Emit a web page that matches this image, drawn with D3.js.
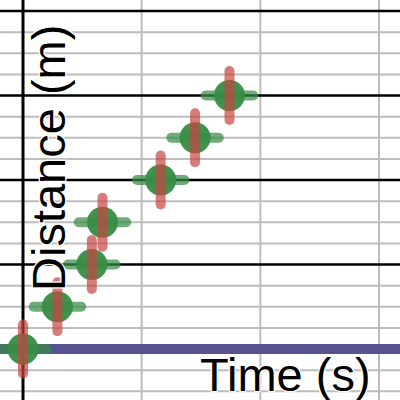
<!DOCTYPE html>
<meta charset="utf-8">
<style>
body { margin: 0; }
svg { display: block; background: #fff; }
.lbl {
  font-family: "Liberation Sans", Arial, sans-serif;
  font-size: 47px;
  fill: #000;
  stroke: #fff;
  stroke-width: 2.5px;
  paint-order: stroke;
}
</style>
<svg width="400" height="400"></svg>
<script src="https://d3js.org/d3.v7.min.js"></script>
<script>

// measured points: time (s) vs distance (m)
var timeS = [0, 0.29, 0.58, 0.67, 1.16, 1.45, 1.74],
    distM = [0, 0.5, 1, 1.5, 2, 2.5, 3];
var timeErr = [0.2, 0.2, 0.2, 0.2, 0.2, 0.2, 0.2],
    distErr = [0.29, 0.29, 0.29, 0.29, 0.29, 0.29, 0.29];

var xMajor = [0, 1, 2, 3],
    yMajor = [0, 1, 2, 3, 4],
    yMinor = d3.range(-0.5, 4.01, 0.25);

var xLabel = "Time (s)",
    yLabel = "Distance (m)";

var svg = d3.select("svg"),
    width = +svg.attr("width"),
    height = +svg.attr("height");

var x = d3.scaleLinear().domain([0, 3]).range([23, 379]),
    y = d3.scaleLinear().domain([0, 4]).range([349, 11]);

var data = timeS.map(function(t, i) {
  return {t: t, d: distM[i], et: timeErr[i], ed: distErr[i]};
});

// grid
var grid = svg.append("g");

grid.selectAll(".hminor")
  .data(yMinor.filter(function(v) { return Math.abs(v - Math.round(v)) > 1e-6; }))
  .enter().append("line")
    .attr("x1", 0).attr("x2", width)
    .attr("y1", function(d) { return y(d); })
    .attr("y2", function(d) { return y(d); })
    .attr("stroke", "#bdbdbd")
    .attr("stroke-width", 2);

grid.selectAll(".vmajor")
  .data(xMajor.filter(function(v) { return v !== 0; }))
  .enter().append("line")
    .attr("y1", 0).attr("y2", height)
    .attr("x1", function(d) { return x(d); })
    .attr("x2", function(d) { return x(d); })
    .attr("stroke", "#bdbdbd")
    .attr("stroke-width", 2);

grid.selectAll(".hmajor")
  .data(yMajor)
  .enter().append("line")
    .attr("x1", 0).attr("x2", width)
    .attr("y1", function(d) { return y(d); })
    .attr("y2", function(d) { return y(d); })
    .attr("stroke", "#000")
    .attr("stroke-width", 2.5);

// y axis
grid.append("line")
    .attr("x1", x(0)).attr("x2", x(0))
    .attr("y1", 0).attr("y2", height)
    .attr("stroke", "#000")
    .attr("stroke-width", 3);

// y = 0 line
svg.append("line")
    .attr("x1", 0).attr("x2", width)
    .attr("y1", y(0)).attr("y2", y(0))
    .attr("stroke", "#56548f")
    .attr("stroke-width", 10);

var pts = svg.append("g");

// horizontal error bars
pts.selectAll(".ex")
  .data(data)
  .enter().append("line")
    .attr("x1", function(d) { return x(d.t - d.et); })
    .attr("x2", function(d) { return x(d.t + d.et); })
    .attr("y1", function(d) { return y(d.d); })
    .attr("y2", function(d) { return y(d.d); })
    .attr("stroke", "#388c46")
    .attr("stroke-opacity", 0.72)
    .attr("stroke-width", 10)
    .attr("stroke-linecap", "round");

pts.selectAll("circle")
  .data(data)
  .enter().append("circle")
    .attr("cx", function(d) { return x(d.t); })
    .attr("cy", function(d) { return y(d.d); })
    .attr("r", 15.5)
    .attr("fill", "#388c46")
    .attr("fill-opacity", 0.95);

// vertical error bars
pts.selectAll(".ey")
  .data(data)
  .enter().append("line")
    .attr("x1", function(d) { return x(d.t); })
    .attr("x2", function(d) { return x(d.t); })
    .attr("y1", function(d) { return y(d.d - d.ed); })
    .attr("y2", function(d) { return y(d.d + d.ed); })
    .attr("stroke", "#c74440")
    .attr("stroke-opacity", 0.7)
    .attr("stroke-width", 10)
    .attr("stroke-linecap", "round");

// axis labels
svg.append("text")
    .attr("class", "lbl")
    .attr("x", 200)
    .attr("y", 391)
    .text(xLabel);

svg.append("text")
    .attr("class", "lbl")
    .attr("transform", "translate(65,291) rotate(-90)")
    .text(yLabel);

</script>
